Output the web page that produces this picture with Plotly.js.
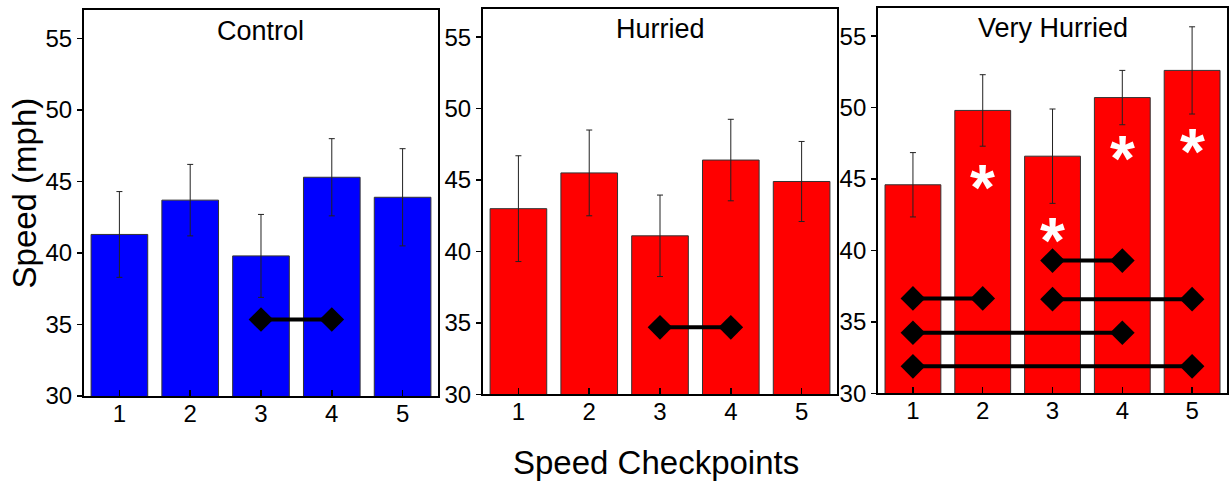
<!DOCTYPE html>
<html>
<head>
<meta charset="utf-8">
<script src="https://cdn.plot.ly/plotly-3.0.1.min.js"></script>
<style>html,body{margin:0;padding:0;background:#fff;}#chart{width:1230px;height:483px;}</style>
</head>
<body>
<div id="chart"></div>
<script>
// ---- data ----
const checkpoints = [1, 2, 3, 4, 5];
const panelTitles = ["Control", "Hurried", "Very Hurried"];

const controlMean = [41.3, 43.7, 39.8, 45.3, 43.9];
const controlErr  = [3.0, 2.5, 2.9, 2.7, 3.4];

const hurriedMean = [43.0, 45.5, 41.1, 46.4, 44.9];
const hurriedErr  = [3.7, 3.0, 2.85, 2.85, 2.8];

const veryMean = [44.6, 49.8, 46.6, 50.7, 52.6];
const veryErr  = [2.25, 2.5, 3.3, 1.9, 3.05];

// significance brackets: panel index (0..2), from checkpoint, to checkpoint, y level
const sigPanel = [0, 1, 2, 2, 2, 2, 2];
const sigFrom  = [3, 3, 3, 1, 3, 1, 1];
const sigTo    = [4, 4, 4, 2, 5, 4, 5];
const sigY     = [35.35, 34.7, 39.3, 36.65, 36.6, 34.25, 31.9];

// asterisks in the Very Hurried panel
const starX = [2, 3, 4, 5];
const starY = [45.3, 41.6, 47.3, 47.8];

const xTickVals = [1, 2, 3, 4, 5];
const yTickVals = [30, 35, 40, 45, 50, 55];

// ---- build ----
const FONT = "Liberation Sans, Arial, sans-serif";
const means = [controlMean, hurriedMean, veryMean];
const errs = [controlErr, hurriedErr, veryErr];
const colors = ["#0000FF", "#FF0000", "#FF0000"];
const axSuffix = ["", "2", "3"];

const traces = [];
for (let p = 0; p < 3; p++) {
  traces.push({
    type: "bar",
    x: checkpoints,
    y: means[p],
    width: 0.8,
    marker: {color: colors[p], line: {color: "#333", width: 1}},
    error_y: {type: "data", array: errs[p], visible: true, color: "#222", thickness: 1, width: 3},
    xaxis: "x" + axSuffix[p],
    yaxis: "y" + axSuffix[p],
    showlegend: false,
    hoverinfo: "skip"
  });
}
for (let i = 0; i < sigPanel.length; i++) {
  const p = sigPanel[i];
  traces.push({
    type: "scatter",
    mode: "lines+markers",
    x: [sigFrom[i], sigTo[i]],
    y: [sigY[i], sigY[i]],
    line: {color: "#000", width: 4},
    marker: {symbol: "diamond", size: 19, color: "#000"},
    xaxis: "x" + axSuffix[p],
    yaxis: "y" + axSuffix[p],
    showlegend: false,
    hoverinfo: "skip"
  });
}

const xDomains = [[0, 0.3097], [0.3491, 0.6588], [0.6947, 1]];
const yDomains = [[0, 0.9923], [0.00386, 0.9961], [0.00643, 0.9987]];

const layout = {
  width: 1230, height: 483,
  margin: {l: 84, r: 3, t: 7, b: 87},
  paper_bgcolor: "#fff",
  plot_bgcolor: "#fff",
  bargap: 0.2,
  font: {family: FONT, color: "#000", size: 24},
  annotations: []
};

for (let p = 0; p < 3; p++) {
  const xa = {
    domain: xDomains[p],
    range: [0.5, 5.5],
    tickvals: xTickVals,
    ticktext: xTickVals.map(String),
    ticks: "inside", ticklen: 6, tickwidth: 1.5, tickcolor: "#000",
    ticklabelstandoff: -5,
    showline: true, linecolor: "#000", linewidth: 2, mirror: true,
    showgrid: false, zeroline: false,
    tickfont: {family: FONT, size: 24, color: "#000"},
    anchor: "y" + axSuffix[p],
    fixedrange: true
  };
  const ya = {
    domain: yDomains[p],
    range: [30, 57],
    tickvals: yTickVals,
    ticks: "outside", ticklen: 5, tickwidth: 1.5, tickcolor: "#000",
    showline: true, linecolor: "#000", linewidth: 2, mirror: true,
    showgrid: false, zeroline: false,
    tickfont: {family: FONT, size: 24, color: "#000"},
    anchor: "x" + axSuffix[p],
    fixedrange: true
  };
  layout["xaxis" + axSuffix[p]] = xa;
  layout["yaxis" + axSuffix[p]] = ya;
  layout.annotations.push({
    text: panelTitles[p],
    xref: "x" + axSuffix[p] + " domain", yref: "y" + axSuffix[p] + " domain",
    x: 0.5, y: 0.946, xanchor: "center", yanchor: "middle",
    showarrow: false,
    font: {family: FONT, size: 27, color: "#000"}
  });
}

for (let i = 0; i < starX.length; i++) {
  layout.annotations.push({
    text: "<b>*</b>",
    xref: "x3", yref: "y3",
    x: starX[i], y: starY[i],
    xanchor: "center", yanchor: "middle",
    yshift: -13,
    showarrow: false,
    font: {family: FONT, size: 64, color: "#fff"}
  });
}

layout.annotations.push({
  text: "Speed (mph)",
  xref: "paper", yref: "paper",
  x: 0, y: 0.5206, xshift: -60,
  xanchor: "center", yanchor: "middle",
  textangle: -90, showarrow: false,
  font: {family: FONT, size: 33, color: "#000"}
});
layout.annotations.push({
  text: "Speed Checkpoints",
  xref: "paper", yref: "paper",
  x: 0.5004, y: -0.172,
  xanchor: "center", yanchor: "middle",
  showarrow: false,
  font: {family: FONT, size: 33, color: "#000"}
});

Plotly.newPlot("chart", traces, layout, {displayModeBar: false, staticPlot: true});
</script>
</body>
</html>
